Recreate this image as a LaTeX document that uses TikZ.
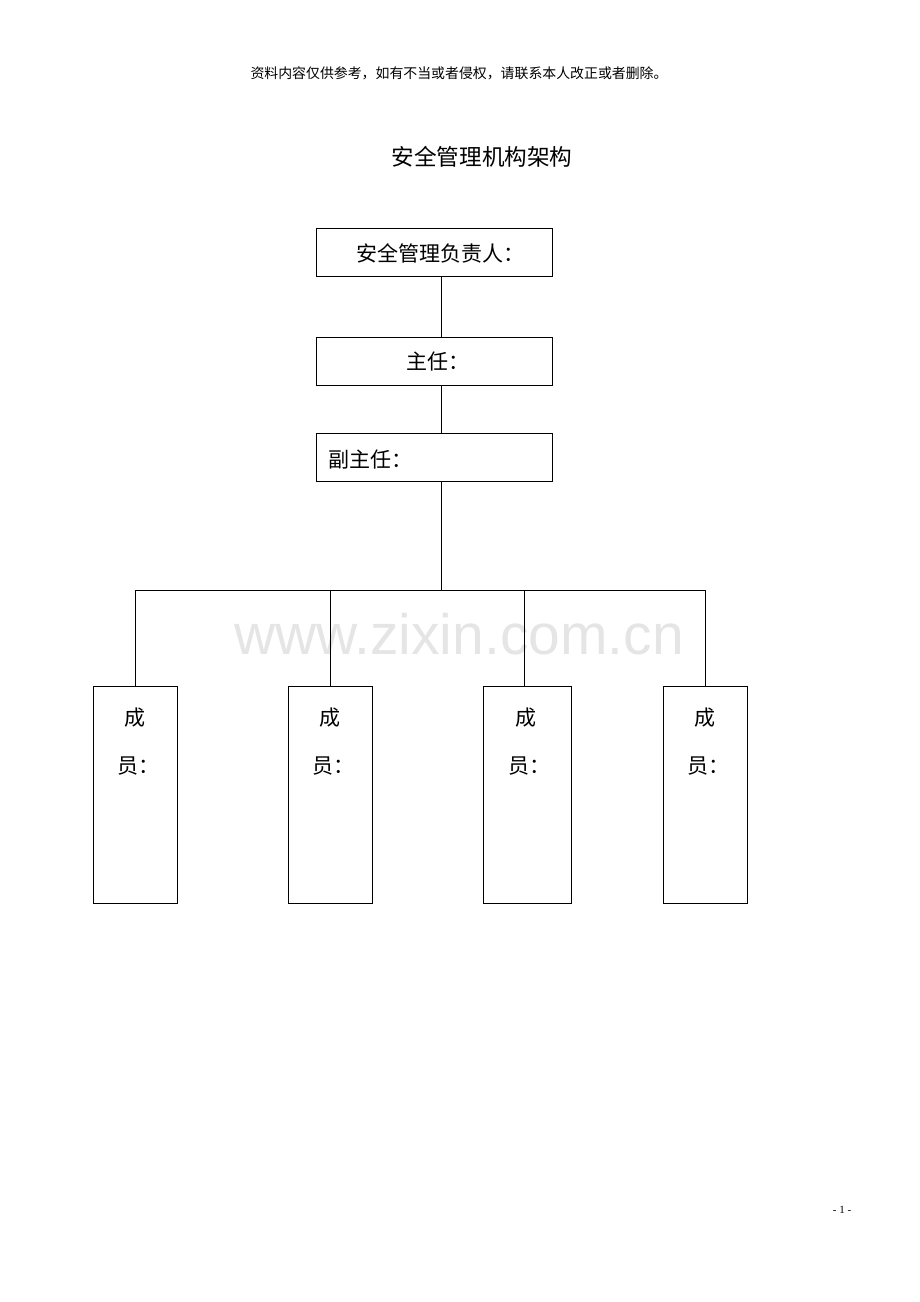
\documentclass[tikz,border=0pt]{standalone}
\usepackage{fontspec}
\setmainfont{Liberation Serif}
\newfontfamily\cjk{Noto Sans CJK SC}
\newfontfamily\wmfont{Liberation Sans}
\begin{document}
\begin{tikzpicture}[x=1pt,y=-1pt,
  boxstyle/.style={draw,line width=0.9pt,inner sep=0pt},
  conn/.style={line width=0.9pt},
  lbl/.style={font=\cjk\fontsize{21}{24}\selectfont,inner sep=0pt}]
\useasboundingbox (0,0) rectangle (920,1302);
% header
\node[font=\cjk\fontsize{13.9}{16}\selectfont,inner sep=0pt] (hdr) at (459,73) {资料内容仅供参考，如有不当或者侵权，请联系本人改正或者删除。};
\node[font=\cjk\fontsize{22.6}{26}\selectfont,inner sep=0pt] (title) at (482,157) {安全管理机构架构};
% watermark
\node[font=\wmfont\fontsize{57}{60}\selectfont,text=black!10,inner sep=0pt] (wm) at (459,634) {www.zixin.com.cn};
% boxes
\draw[boxstyle] (316,228) rectangle (552,276);
\node[lbl] (t1) at (440,253) {安全管理负责人：};
\draw[boxstyle] (316,337) rectangle (552,385);
\node[lbl] (t2) at (438,362) {主任：};
\draw[boxstyle] (316,433) rectangle (552,481);
\node[lbl,anchor=west] (t3) at (328,460) {副主任：};
% connectors in the spine
\coordinate (s1t) at (441,276);
\coordinate (s1b) at (441,337);
\coordinate (s2t) at (441,385);
\coordinate (s2b) at (441,433);
\coordinate (s3t) at (441,481);
\coordinate (hub) at (441,590);
\draw[conn] (s1t) -- (s1b);
\draw[conn] (s2t) -- (s2b);
\draw[conn] (s3t) -- (hub);
% horizontal bar
\coordinate (h1) at (135,590);
\coordinate (h2) at (330,590);
\coordinate (h3) at (524,590);
\coordinate (h4) at (705,590);
\draw[conn] (h1) -- (h4);
% member boxes
\draw[boxstyle] (93,686) rectangle (177,903);
\draw[boxstyle] (288,686) rectangle (372,903);
\draw[boxstyle] (483,686) rectangle (571,903);
\draw[boxstyle] (663,686) rectangle (747,903);
\coordinate (m1) at (135,686);
\coordinate (m2) at (330,686);
\coordinate (m3) at (524,686);
\coordinate (m4) at (705,686);
\draw[conn] (h1) -- (m1);
\draw[conn] (h2) -- (m2);
\draw[conn] (h3) -- (m3);
\draw[conn] (h4) -- (m4);
% member labels
\foreach \i/\cx in {1/135,2/330,3/526,4/705}{
  \node[lbl] (c\i) at (\cx,718) {成};
  \node[lbl] (r\i) at (\cx+3,766) {员：};
}
% page number
\node[font=\fontsize{11}{13}\selectfont,inner sep=0pt] (pg) at (842,1210) {- 1 -};
\end{tikzpicture}
\end{document}
